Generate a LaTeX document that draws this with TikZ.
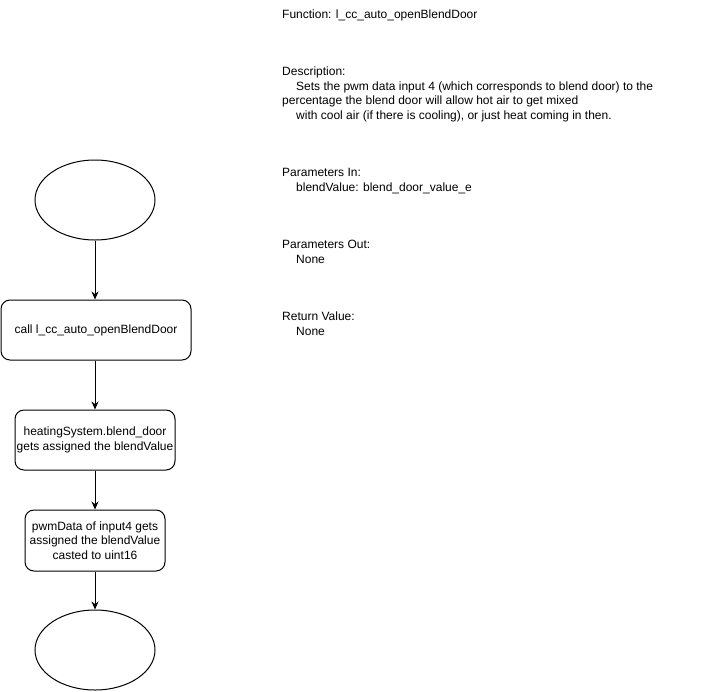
\documentclass[tikz,border=0pt]{standalone}
\usepackage{fontspec}
\setmainfont{Liberation Sans}
\usetikzlibrary{shapes.geometric,arrows.meta}
\begin{document}
\begin{tikzpicture}[x=1pt,y=-1pt,
  every node/.style={font=\fontsize{12pt}{14.4pt}\selectfont},
  terminal/.style={draw,line width=1pt,ellipse,minimum width=120pt,minimum height=80pt,inner sep=0pt},
  stepbox/.style={draw,line width=1pt,rectangle,rounded corners=9pt,align=center,inner sep=0pt},
  flow/.style={line width=1pt,-{Stealth[length=8pt,width=7pt]}}]
\useasboundingbox (0,0) rectangle (701,691);

% flowchart column
\node[terminal] (start) at (95,200) {};
\node[stepbox,minimum width=190pt,minimum height=60pt] (call) at (96,330) {call l\_cc\_auto\_openBlendDoor};
\node[stepbox,minimum width=160pt,minimum height=60pt] (assign) at (95,440) {heatingSystem.blend\_door\\gets assigned the blendValue};
\node[stepbox,minimum width=140pt,minimum height=61pt] (pwm) at (95,540.5) {pwmData of input4 gets\\assigned the blendValue\\casted to uint16};
\node[terminal] (stop) at (95,650) {};

\draw[flow] (start.south) -- (start.south |- call.north);
\draw[flow] (start.south |- call.south) -- (assign.north);
\draw[flow] (assign.south) -- (pwm.north);
\draw[flow] (pwm.south) -- (stop.north);

% function description block
\node[anchor=north west,align=left,inner sep=0pt] (doc) at (282,9.3) {%
Function: l\_cc\_auto\_openBlendDoor\\[43.2pt]
Description:\\
\hspace*{14pt}Sets the pwm data input 4 (which corresponds to blend door) to the\\
percentage the blend door will allow hot air to get mixed\\
\hspace*{14pt}with cool air (if there is cooling), or just heat coming in then.\\[43.2pt]
Parameters In:\\
\hspace*{14pt}blendValue: blend\_door\_value\_e\\[43.2pt]
Parameters Out:\\
\hspace*{14pt}None\\[43.2pt]
Return Value:\\
\hspace*{14pt}None};
\end{tikzpicture}
\end{document}
